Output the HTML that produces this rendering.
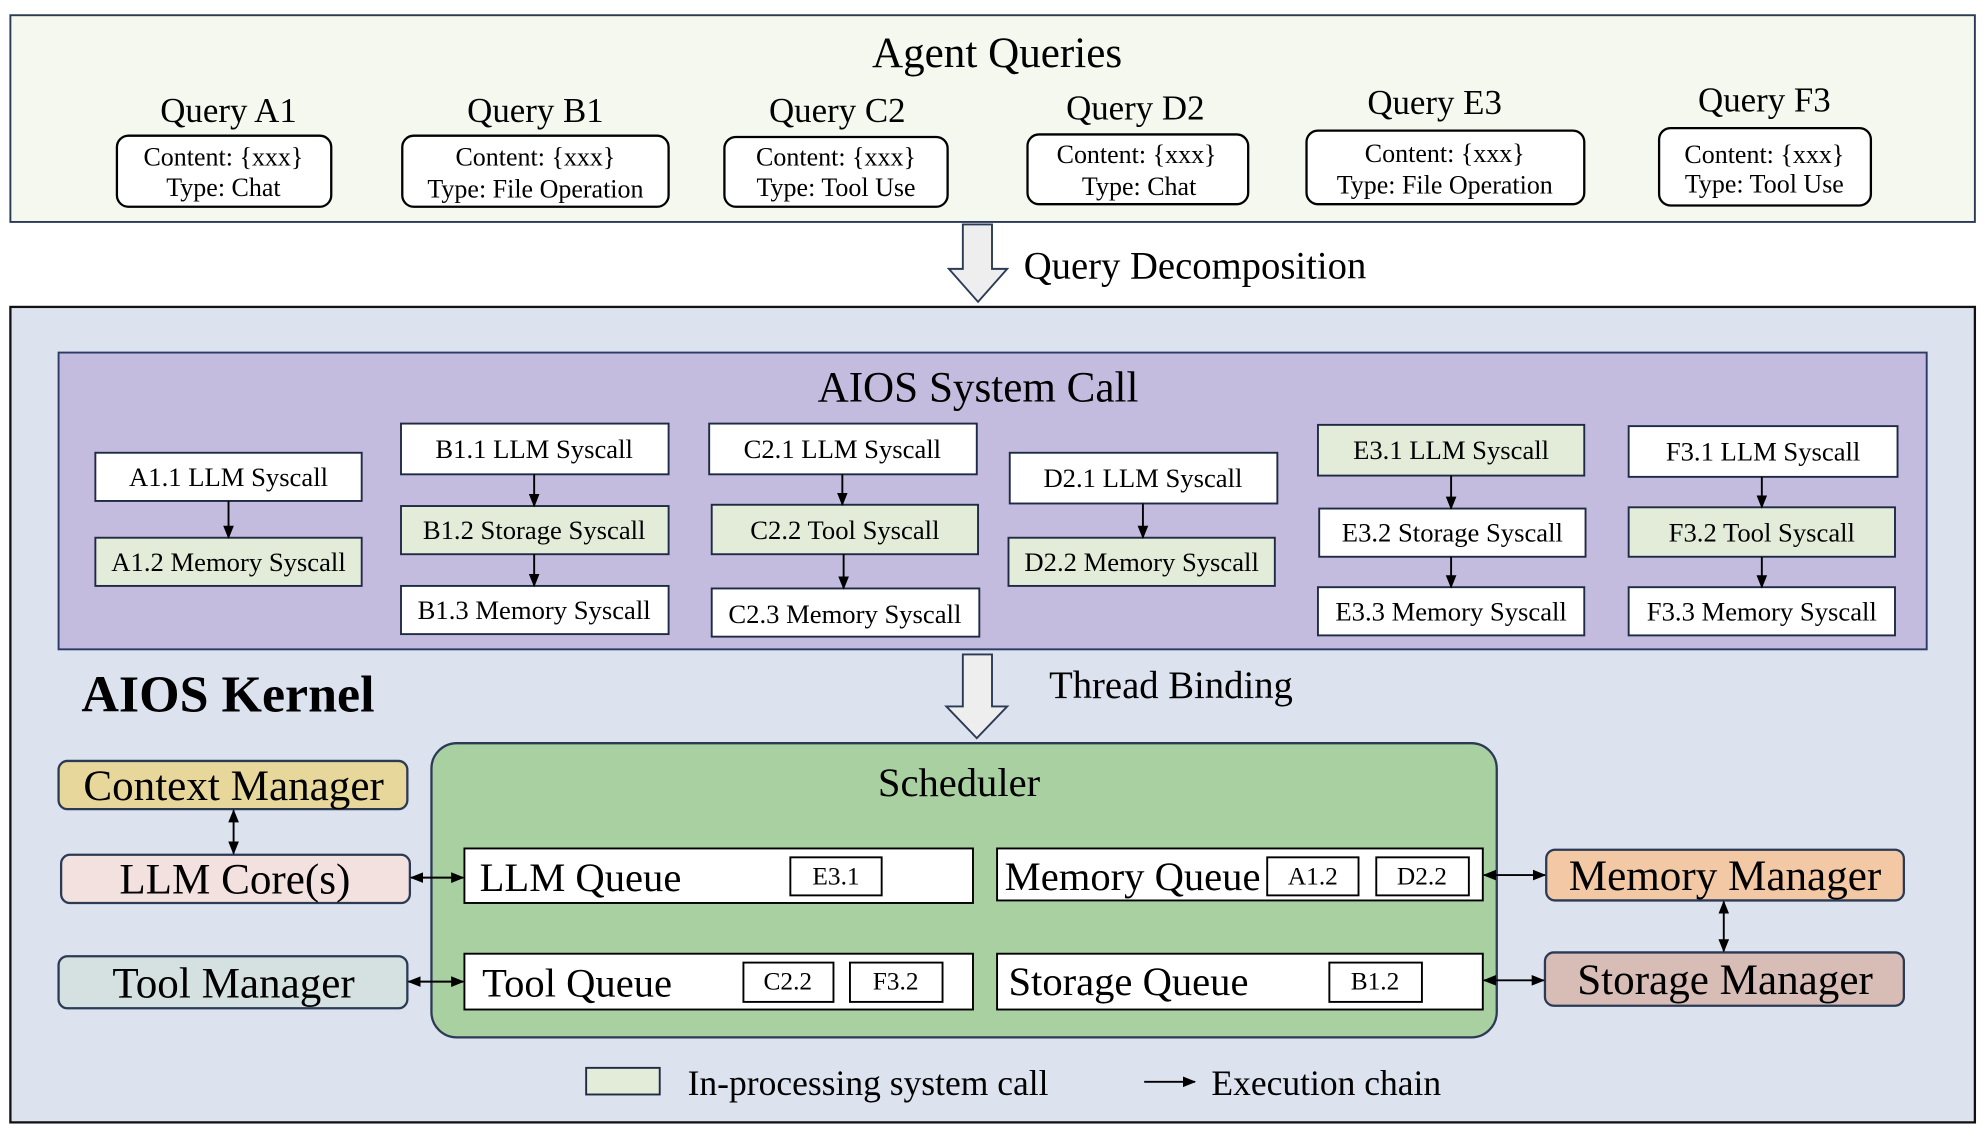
<!DOCTYPE html>
<html><head><meta charset="utf-8"><style>html,body{margin:0;padding:0;background:#fff}svg{display:block}text{font-family:"Liberation Serif",serif;fill:#000}</style></head>
<body>
<svg width="1984" height="1130" viewBox="0 0 1564 891" xmlns="http://www.w3.org/2000/svg">
<defs>
<marker id="ah" viewBox="0 0 10 10" refX="9" refY="5" markerWidth="7" markerHeight="7" orient="auto-start-reverse"><path d="M0,1 L10,5 L0,9 z" fill="#000"/></marker>
</defs>
<rect x="0" y="0" width="1564" height="891" fill="#fff"/>
<rect x="8" y="12" width="1549" height="163" fill="#f5f8ef" stroke="#2b3a55" stroke-width="1.5"/>
<text x="786" y="42" font-size="34" text-anchor="middle" dominant-baseline="central">Agent Queries</text>
<g font-size="27.5" text-anchor="middle" dominant-baseline="central">
<text x="180" y="87">Query A1</text><text x="422" y="87">Query B1</text><text x="660" y="87">Query C2</text>
<text x="895" y="85">Query D2</text><text x="1131" y="81">Query E3</text><text x="1391" y="79">Query F3</text>
</g>
<g fill="#fff" stroke="#000" stroke-width="1.8">
<rect x="92" y="107" width="169" height="56" rx="9"/><rect x="317" y="107" width="210" height="56" rx="9"/>
<rect x="571" y="108" width="176" height="55" rx="9"/><rect x="810" y="106" width="174" height="55" rx="9"/>
<rect x="1030" y="103" width="219" height="58" rx="9"/><rect x="1308" y="101" width="167" height="61" rx="9"/>
</g>
<g font-size="20.5" text-anchor="middle" dominant-baseline="central">
<text x="176" y="124">Content: {xxx}</text><text x="176" y="148">Type: Chat</text>
<text x="422" y="124">Content: {xxx}</text><text x="422" y="149">Type: File Operation</text>
<text x="659" y="124">Content: {xxx}</text><text x="659" y="148">Type: Tool Use</text>
<text x="896" y="122">Content: {xxx}</text><text x="898" y="147">Type: Chat</text>
<text x="1139" y="121">Content: {xxx}</text><text x="1139" y="146">Type: File Operation</text>
<text x="1391" y="122">Content: {xxx}</text><text x="1391" y="145">Type: Tool Use</text>
</g>
<path d="M759,177 L782,177 L782,212 L794,212 L771,238 L748,212 L759,212 Z" fill="#eeeeee" stroke="#2b3a55" stroke-width="1.5"/>
<text x="807" y="210" font-size="30.5" dominant-baseline="central">Query Decomposition</text>
<rect x="8" y="242" width="1549" height="643" fill="#dce3ef" stroke="#111" stroke-width="1.8"/>
<rect x="46" y="278" width="1473" height="234" fill="#c3bcde" stroke="#2b3a66" stroke-width="1.5"/>
<text x="771" y="306" font-size="34" text-anchor="middle" dominant-baseline="central">AIOS System Call</text>
<g stroke="#1f2a44" stroke-width="1.5">
<rect x="75" y="357" width="210" height="38" fill="#fff"/><rect x="75" y="424" width="210" height="38" fill="#e3ecd9"/>
<rect x="316" y="334" width="211" height="40" fill="#fff"/><rect x="316" y="399" width="211" height="38" fill="#e3ecd9"/><rect x="316" y="462" width="211" height="38" fill="#fff"/>
<rect x="559" y="334" width="211" height="40" fill="#fff"/><rect x="561" y="398" width="210" height="39" fill="#e3ecd9"/><rect x="561" y="464" width="211" height="38" fill="#fff"/>
<rect x="796" y="357" width="211" height="40" fill="#fff"/><rect x="795" y="424" width="210" height="38" fill="#e3ecd9"/>
<rect x="1039" y="335" width="210" height="40" fill="#e3ecd9"/><rect x="1040" y="401" width="210" height="38" fill="#fff"/><rect x="1039" y="463" width="210" height="38" fill="#fff"/>
<rect x="1284" y="336" width="212" height="40" fill="#fff"/><rect x="1284" y="400" width="210" height="39" fill="#e3ecd9"/><rect x="1284" y="463" width="210" height="38" fill="#fff"/>
</g>
<g font-size="21" text-anchor="middle" dominant-baseline="central">
<text x="180" y="376">A1.1 LLM Syscall</text><text x="180" y="443">A1.2 Memory Syscall</text>
<text x="421" y="354">B1.1 LLM Syscall</text><text x="421" y="418">B1.2 Storage Syscall</text><text x="421" y="481">B1.3 Memory Syscall</text>
<text x="664" y="354">C2.1 LLM Syscall</text><text x="666" y="418">C2.2 Tool Syscall</text><text x="666" y="484">C2.3 Memory Syscall</text>
<text x="901" y="377">D2.1 LLM Syscall</text><text x="900" y="443">D2.2 Memory Syscall</text>
<text x="1144" y="355">E3.1 LLM Syscall</text><text x="1145" y="420">E3.2 Storage Syscall</text><text x="1144" y="482">E3.3 Memory Syscall</text>
<text x="1390" y="356">F3.1 LLM Syscall</text><text x="1389" y="420">F3.2 Tool Syscall</text><text x="1389" y="482">F3.3 Memory Syscall</text>
</g>
<g stroke="#000" stroke-width="1.5" marker-end="url(#ah)">
<line x1="180" y1="395" x2="180" y2="424"/>
<line x1="421" y1="374" x2="421" y2="399"/><line x1="421" y1="437" x2="421" y2="462"/>
<line x1="664" y1="374" x2="664" y2="398"/><line x1="665" y1="437" x2="665" y2="464"/>
<line x1="901" y1="397" x2="901" y2="424"/>
<line x1="1144" y1="375" x2="1144" y2="401"/><line x1="1144" y1="439" x2="1144" y2="463"/>
<line x1="1389" y1="376" x2="1389" y2="400"/><line x1="1389" y1="439" x2="1389" y2="463"/>
</g>
<path d="M759,516 L782,516 L782,557 L794,557 L770,582 L746,557 L759,557 Z" fill="#eeeeee" stroke="#2b3a55" stroke-width="1.5"/>
<text x="827" y="541" font-size="30.5" dominant-baseline="central">Thread Binding</text>
<text x="64" y="548" font-size="41" font-weight="bold" dominant-baseline="central">AIOS Kernel</text>
<rect x="340" y="586" width="840" height="232" rx="20" fill="#a8d0a0" stroke="#2b3a55" stroke-width="1.8"/>
<text x="756" y="617" font-size="32" text-anchor="middle" dominant-baseline="central">Scheduler</text>
<g fill="#fff" stroke="#000" stroke-width="1.5">
<rect x="366" y="669" width="401" height="43"/><rect x="786" y="669" width="383" height="41"/>
<rect x="366" y="752" width="401" height="44"/><rect x="786" y="752" width="383" height="44"/>
<rect x="623" y="676" width="72" height="30"/><rect x="999" y="676" width="72" height="30"/><rect x="1085" y="676" width="73" height="30"/>
<rect x="586" y="759" width="71" height="31"/><rect x="670" y="759" width="73" height="31"/><rect x="1048" y="759" width="73" height="31"/>
</g>
<g font-size="32" dominant-baseline="central">
<text x="378" y="692">LLM Queue</text><text x="792" y="691">Memory Queue</text>
<text x="380" y="775">Tool Queue</text><text x="795" y="774">Storage Queue</text>
</g>
<g font-size="20" text-anchor="middle" dominant-baseline="central">
<text x="659" y="691">E3.1</text><text x="1035" y="691">A1.2</text><text x="1121" y="691">D2.2</text>
<text x="621" y="774">C2.2</text><text x="706" y="774">F3.2</text><text x="1084" y="774">B1.2</text>
</g>
<g stroke="#2b3a55" stroke-width="1.8">
<rect x="46" y="600" width="275" height="38" rx="7" fill="#e8d79a"/>
<rect x="48" y="674" width="275" height="38" rx="7" fill="#f3e1e0"/>
<rect x="46" y="754" width="275" height="41" rx="7" fill="#d5e0e0"/>
<rect x="1219" y="670" width="282" height="40" rx="7" fill="#f3c9a5"/>
<rect x="1218" y="751" width="283" height="42" rx="7" fill="#d7bdb6"/>
</g>
<g font-size="34" text-anchor="middle" dominant-baseline="central">
<text x="184" y="620">Context Manager</text><text x="185" y="694">LLM Core(s)</text><text x="184" y="776">Tool Manager</text>
<text x="1360" y="691">Memory Manager</text><text x="1360" y="773">Storage Manager</text>
</g>
<g stroke="#000" stroke-width="1.5" marker-start="url(#ah)" marker-end="url(#ah)">
<line x1="184" y1="639" x2="184" y2="673"/>
<line x1="324" y1="692" x2="365" y2="692"/>
<line x1="322" y1="774" x2="365" y2="774"/>
<line x1="1170" y1="690" x2="1218" y2="690"/>
<line x1="1170" y1="773" x2="1217" y2="773"/>
<line x1="1359" y1="711" x2="1359" y2="750"/>
</g>
<rect x="462" y="842" width="58" height="21" fill="#e3ecd9" stroke="#1f2a44" stroke-width="1.5"/>
<text x="542" y="854" font-size="28" dominant-baseline="central">In-processing system call</text>
<line x1="902" y1="853" x2="942" y2="853" stroke="#000" stroke-width="1.5" marker-end="url(#ah)"/>
<text x="955" y="854" font-size="28" dominant-baseline="central">Execution chain</text>
</svg>
</body></html>
